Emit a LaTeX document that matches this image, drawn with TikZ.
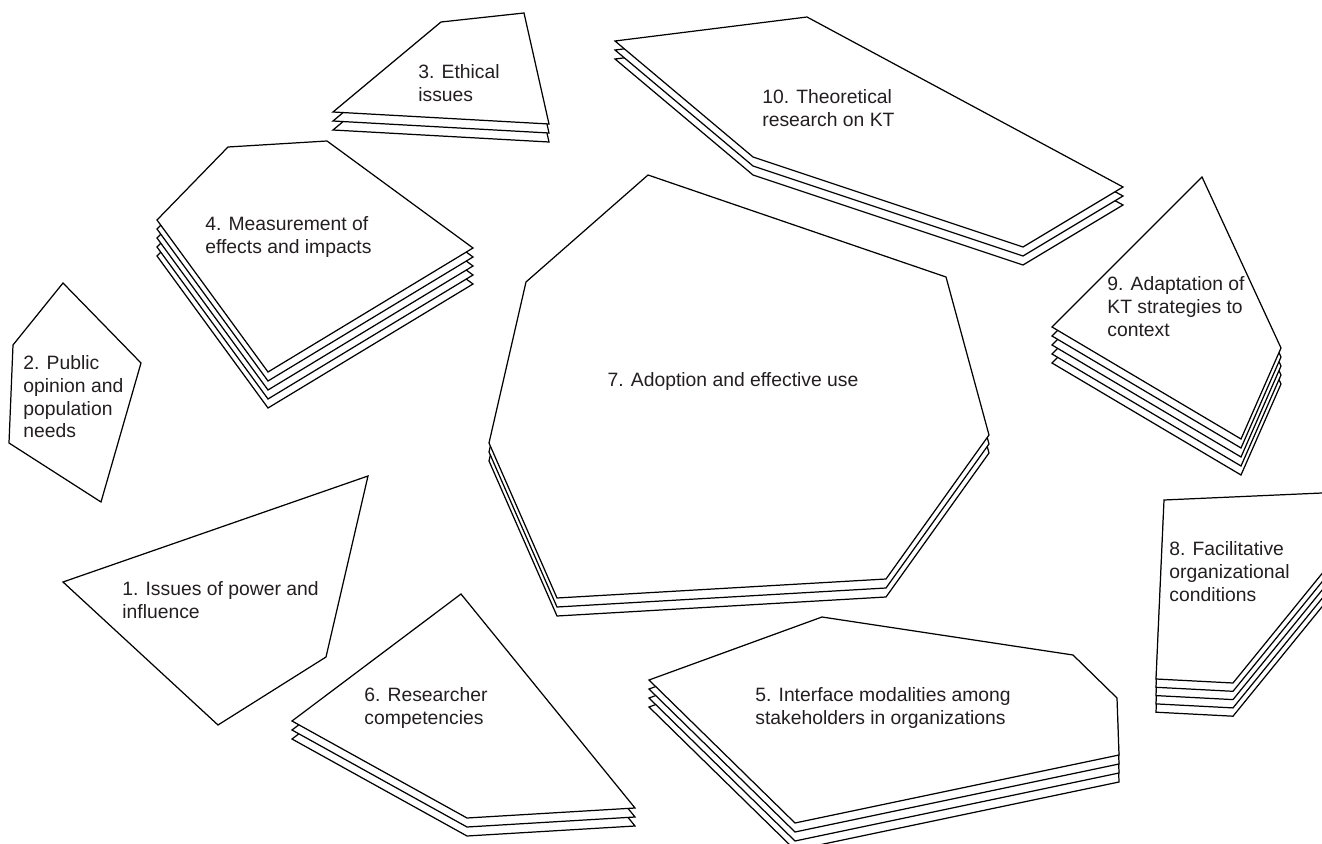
\documentclass[tikz,border=0pt]{standalone}
\usepackage{fontspec}
\setmainfont{Liberation Sans}
\usepackage{xcolor}
\usepackage{tikz}
\usetikzlibrary{positioning}

\definecolor{inkgray}{RGB}{35,31,32}

% a pile of equal sheets, each one 9px lower than the one above
\newcommand{\pile}[3][9]{%
  \foreach \k in {#2,...,0} {\draw[sheet, shift={(0,#1*\k)}] #3 -- cycle;}}

\begin{document}
\begin{tikzpicture}[x=0.02cm, y=-0.02cm,
   sheet/.style={draw=black, fill=white, line width=0.7pt, line join=miter},
   cardtext/.style={text=inkgray, font=\fontsize{11}{13}\selectfont, align=left, inner sep=0pt, anchor=north west}]

   \useasboundingbox (0,0) rectangle (1322,844);
   \clip (0,0) rectangle (1322,844);

   % Define the piles of sheets
   \pile{0}{(63,283) -- (141,363) -- (101,502) -- (9,443) -- (13,345)}
   \pile{2}{(441,22) -- (524,13) -- (549,124) -- (333,112)}
   \pile{4}{(228,147) -- (327,141) -- (473,248) -- (268,372) -- (157,220)}
   \pile{2}{(615,41) -- (807,17) -- (1123,187) -- (1023,247) -- (753,157)}
   \pile{2}{(648,175) -- (946,277) -- (989,435) -- (886,579) -- (557,598) -- (489,443) -- (526,282)}
   \pile{4}{(1202,177) -- (1281,348) -- (1241,439) -- (1052,327)}
   \pile[8.3]{4}{(1164,500) -- (1390,490) -- (1233,683) -- (1156,679)}
   \pile{0}{(368,476) -- (326,657) -- (218,725) -- (63,582)}
   \pile{2}{(461,594) -- (635,808) -- (467,818) -- (292,721)}
   \pile{3}{(822,617) -- (1073,655) -- (1117,698) -- (1119,755) -- (795,823) -- (649,680)}

   % Define the labels
   \node[cardtext] (power) at (122,581) {1. Issues of power and\\influence};
   \node[cardtext] (public) at (23,355) {2. Public\\opinion and\\population\\needs};
   \node[cardtext] (ethics) at (418,64) {3. Ethical\\issues};
   \node[cardtext] (impact) at (205,216) {4. Measurement of\\effects and impacts};
   \node[cardtext] (interface) at (755,687) {5. Interface modalities among\\stakeholders in organizations};
   \node[cardtext] (skills) at (364,687) {6. Researcher\\competencies};
   \node[cardtext, anchor=base] (adoption) at (733,387) {7. Adoption and effective use};
   \node[cardtext] (conditions) at (1169,541) {8. Facilitative\\organizational\\conditions};
   \node[cardtext] (context) at (1107,276) {9. Adaptation of\\KT strategies to\\context};
   \node[cardtext] (theory) at (762,89) {10. Theoretical\\research on KT};

\end{tikzpicture}
\end{document}
